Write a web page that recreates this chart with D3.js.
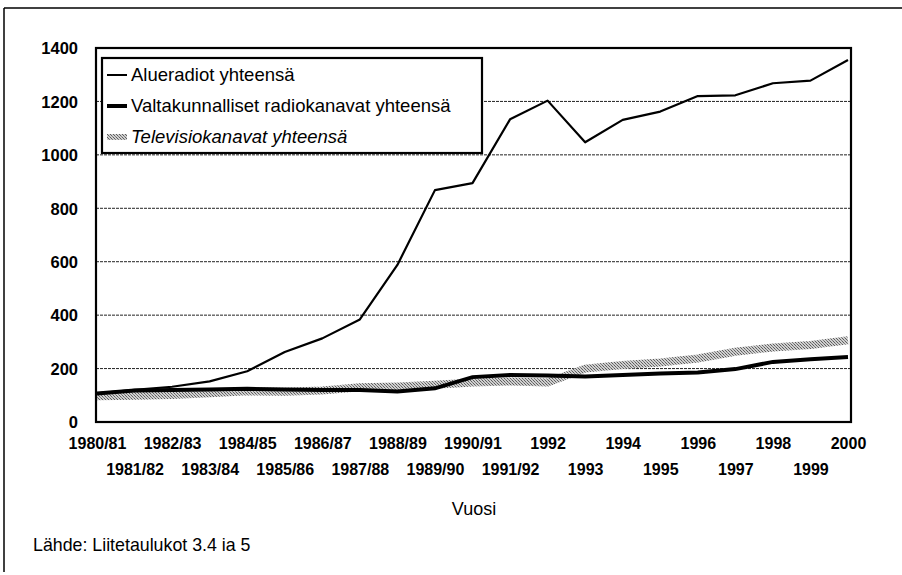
<!DOCTYPE html>
<html>
<head>
<meta charset="utf-8">
<script src="https://cdn.jsdelivr.net/npm/d3@7"></script>
<style>
body { margin: 0; background: #fff; }
svg text { font-family: "Liberation Sans", Arial, sans-serif; fill: #000; }
</style>
</head>
<body>
<svg id="viz" width="902" height="575"></svg>
<script>
// vuodet x-akselilla
var years = ["1980/81", "1981/82", "1982/83", "1983/84", "1984/85", "1985/86", "1986/87",
    "1987/88", "1988/89", "1989/90", "1990/91", "1991/92", "1992", "1993", "1994",
    "1995", "1996", "1997", "1998", "1999", "2000"];

var alueradiot = [107, 120, 132, 152, 190, 262, 313, 384, 588, 868, 894, 1133, 1203,
    1047, 1131, 1162, 1220, 1223, 1268, 1278, 1355];
var valtakunnalliset = [107, 118, 120, 122, 124, 122, 120, 120, 114, 126, 168, 176, 174,
    170, 176, 182, 185, 198, 225, 235, 243];
var televisio = [96, 98, 101, 108, 115, 113, 118, 130, 133, 139, 148, 152, 148,
    200, 213, 223, 238, 263, 279, 288, 306];

var yTicks = [0, 200, 400, 600, 800, 1000, 1200, 1400];
var legendNames = ["Alueradiot yhteensä", "Valtakunnalliset radiokanavat yhteensä", "Televisiokanavat yhteensä"];

var svg = d3.select("#viz");
var plot = { left: 96, right: 851, top: 48, bottom: 422 };

var x = d3.scalePoint().domain(years).range([97, 848]);
var y = d3.scaleLinear().domain([0, 1400]).range([plot.bottom, plot.top]);

// raster for the tv line
var defs = svg.append("defs");
var pat = defs.append("pattern")
    .attr("id", "hatch")
    .attr("patternUnits", "userSpaceOnUse")
    .attr("width", 3).attr("height", 3);
pat.append("rect").attr("width", 3).attr("height", 3).attr("fill", "#cfcfcf");
pat.append("rect").attr("x", 0).attr("y", 0).attr("width", 1).attr("height", 1).attr("fill", "#5e5e5e");
pat.append("rect").attr("x", 1).attr("y", 1).attr("width", 1).attr("height", 1).attr("fill", "#7e7e7e");
pat.append("rect").attr("x", 2).attr("y", 2).attr("width", 1).attr("height", 1).attr("fill", "#5e5e5e");

// outer frame (top and left only visible)
svg.append("line").attr("x1", 4).attr("x2", 902).attr("y1", 8).attr("y2", 8)
    .attr("stroke", "#000").attr("stroke-width", 1.5);
svg.append("line").attr("x1", 4).attr("x2", 4).attr("y1", 8).attr("y2", 572)
    .attr("stroke", "#000").attr("stroke-width", 1.5);

// grid
svg.append("g").selectAll("line")
    .data(yTicks.filter(function(d) { return d > 0 && d < 1400; }))
    .enter().append("line")
    .attr("x1", plot.left).attr("x2", plot.right)
    .attr("y1", function(d) { return y(d); })
    .attr("y2", function(d) { return y(d); })
    .attr("stroke", "#222")
    .attr("stroke-width", 1)
    .attr("stroke-dasharray", "3,1");

// y labels
var yAxis = d3.axisLeft(y).tickValues(yTicks).tickFormat(d3.format("d")).tickSize(0).tickPadding(0);
var gy = svg.append("g").attr("transform", "translate(78,0)").call(yAxis);
gy.select(".domain").remove();
gy.selectAll("text")
    .attr("font-size", 16.5)
    .attr("font-weight", "bold")
    .attr("text-anchor", "end")
    .attr("dy", "0.35em")
    .style("font-family", null);

// x labels, alternating rows
var xAxis = d3.axisBottom(x).tickSize(0).tickPadding(0);
var gx = svg.append("g").call(xAxis);
gx.select(".domain").remove();
gx.selectAll("text")
    .attr("font-size", 16)
    .attr("font-weight", "bold")
    .attr("dy", "0.35em")
    .attr("y", function(d, i) { return i % 2 === 0 ? 443 : 469; })
    .style("font-family", null);

function lineOf(values) {
    return d3.line()
        .x(function(d, i) { return x(years[i]); })
        .y(function(d) { return y(d); })(values);
}

var clip = defs.append("clipPath").attr("id", "plotclip");
clip.append("rect").attr("x", plot.left).attr("y", plot.top)
    .attr("width", plot.right - plot.left).attr("height", plot.bottom - plot.top);

var lines = svg.append("g").attr("clip-path", "url(#plotclip)");
lines.append("path").attr("d", lineOf(televisio))
    .attr("fill", "none").attr("stroke", "url(#hatch)").attr("stroke-width", 8);
lines.append("path").attr("d", lineOf(valtakunnalliset))
    .attr("fill", "none").attr("stroke", "#000").attr("stroke-width", 4);
lines.append("path").attr("d", lineOf(alueradiot))
    .attr("fill", "none").attr("stroke", "#000").attr("stroke-width", 2.2)
    .attr("stroke-linejoin", "round");

// plot frame
svg.append("rect")
    .attr("x", plot.left).attr("y", plot.top)
    .attr("width", plot.right - plot.left).attr("height", plot.bottom - plot.top)
    .attr("fill", "none").attr("stroke", "#000").attr("stroke-width", 2.2);

// legend
var lg = svg.append("g");
lg.append("rect").attr("x", 102).attr("y", 58).attr("width", 380).attr("height", 95)
    .attr("fill", "#fff").attr("stroke", "#000").attr("stroke-width", 2.2);
var rows = [75, 106, 137];
var legendStroke = [
    { stroke: "#000", w: 2 },
    { stroke: "#000", w: 4 },
    { stroke: "url(#hatch)", w: 6 }
];
legendNames.forEach(function(name, i) {
    lg.append("line").attr("x1", 107).attr("x2", 127)
        .attr("y1", rows[i]).attr("y2", rows[i])
        .attr("stroke", legendStroke[i].stroke).attr("stroke-width", legendStroke[i].w);
    lg.append("text").attr("x", 131).attr("y", rows[i]).attr("dy", "0.35em")
        .attr("font-size", 18.5)
        .attr("font-style", i === 2 ? "italic" : "normal")
        .text(name);
});

svg.append("text").attr("x", 474).attr("y", 509).attr("dy", "0.35em")
    .attr("text-anchor", "middle").attr("font-size", 18).text("Vuosi");
svg.append("text").attr("x", 33).attr("y", 545).attr("dy", "0.35em")
    .attr("font-size", 17.8).text("Lähde: Liitetaulukot 3.4 ia 5");
</script>
</body>
</html>
